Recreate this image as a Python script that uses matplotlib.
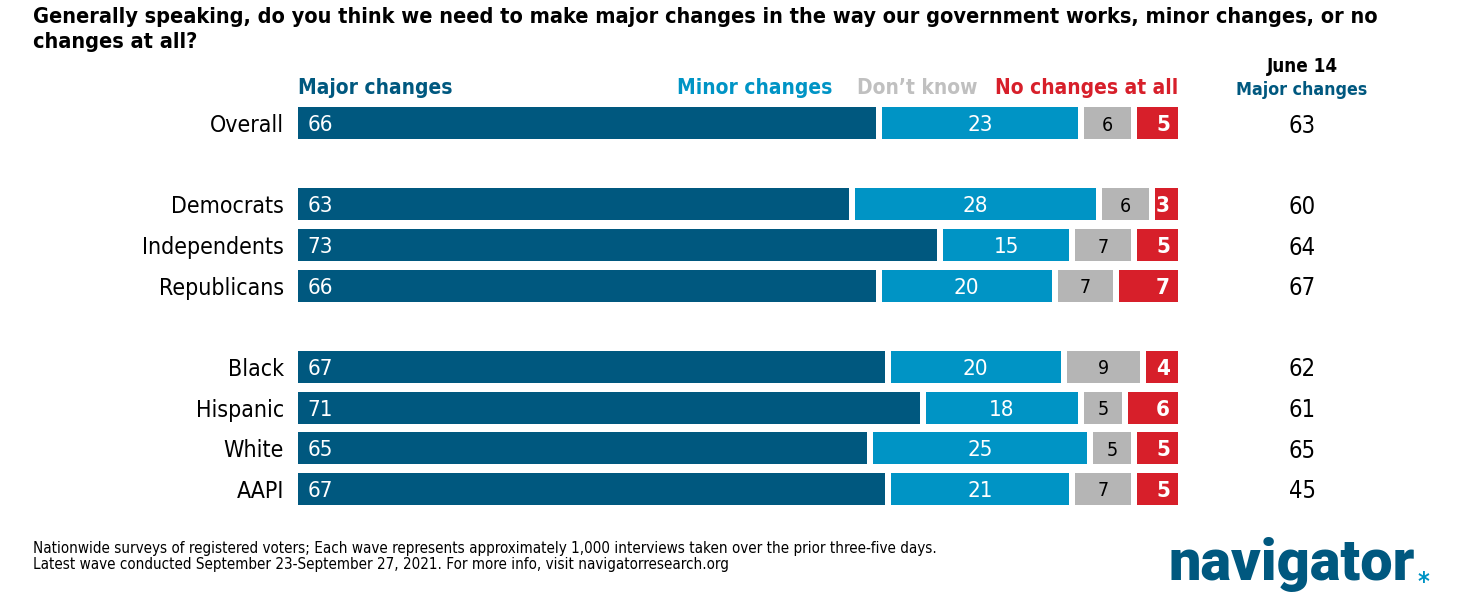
import matplotlib.pyplot as plt

# data
groups = ['Overall', 'Democrats', 'Independents', 'Republicans',
          'Black', 'Hispanic', 'White', 'AAPI']
rows = [0, 2, 3, 4, 6, 7, 8, 9]  # blank rows separate the blocks
major = [66, 63, 73, 66, 67, 71, 65, 67]
minor = [23, 28, 15, 20, 20, 18, 25, 21]
dont_know = [6, 6, 7, 7, 9, 5, 5, 7]
no_change = [5, 3, 5, 7, 4, 6, 5, 5]
june14_major = [63, 60, 64, 67, 62, 61, 65, 45]

series_names = ['Major changes', 'Minor changes', 'Don\u2019t know', 'No changes at all']
colors = ['#00587F', '#0094C5', '#B5B5B5', '#D71F2A']
label_colors = ['white', 'white', 'black', 'white']

plt.rcParams['font.family'] = ['DejaVu Sans']
plt.rcParams['font.stretch'] = 'condensed'

W, H = 1469, 601
fig = plt.figure(figsize=(W / 100, H / 100), dpi=100)

# axes placed in pixel terms: x 298..1178, rows 0..9 at y 123..489
top_px, bot_px = 102.7, 509.3
ax = fig.add_axes([298 / W, 1 - bot_px / H, 880 / W, (bot_px - top_px) / H])
ax.set_xlim(0, 100)
ax.set_ylim(9.5, -0.5)
ax.axis('off')

gap = 0.7
bar_h = 0.79
series = [major, minor, dont_know, no_change]
for i, r in enumerate(rows):
    left = 0
    vals = [s[i] for s in series]
    for j, v in enumerate(vals):
        l0 = left + (gap / 2 if j > 0 else 0)
        l1 = left + v - (gap / 2 if j < len(vals) - 1 else 0)
        ax.barh(r, l1 - l0, left=l0, height=bar_h, color=colors[j], linewidth=0)
        if j == 0:
            ax.text(l0 + 1.1, r, str(v), ha='left', va='center_baseline',
                    color=label_colors[j], fontsize=16)
        elif j == 3:
            ax.text(l1 - 0.9, r, str(v), ha='right', va='center_baseline',
                    color=label_colors[j], fontsize=16, fontweight='bold')
        else:
            ax.text((l0 + l1) / 2, r, str(v), ha='center', va='center_baseline',
                    color=label_colors[j], fontsize=16 if j == 1 else 14)
        left += v
    ax.text(-1.6, r, groups[i], ha='right', va='center_baseline',
            fontsize=16.6, color='black')
    ax.text(114.1, r, str(june14_major[i]), ha='center', va='center_baseline',
            fontsize=17, color='black')

# legend labels above the bars
leg_y = -0.92
ax.text(0, leg_y, series_names[0], ha='left', va='center_baseline',
        color=colors[0], fontsize=15, fontweight='bold')
ax.text(60.7, leg_y, series_names[1], ha='right', va='center_baseline',
        color=colors[1], fontsize=15, fontweight='bold')
ax.text(63.5, leg_y, series_names[2], ha='left', va='center_baseline',
        color='#C0C0C0', fontsize=15, fontweight='bold')
ax.text(100, leg_y, series_names[3], ha='right', va='center_baseline',
        color=colors[3], fontsize=15, fontweight='bold')

ax.text(114.1, -1.45, 'June 14', ha='center', va='center_baseline',
        fontsize=13.5, fontweight='bold', color='black')
ax.text(114.1, -0.85, 'Major changes', ha='center', va='center_baseline',
        fontsize=12.8, fontweight='bold', color=colors[0])

# title
fig.text(33 / W, 1 - 7 / H,
         'Generally speaking, do you think we need to make major changes in the way our government works, minor changes, or no\nchanges at all?',
         ha='left', va='top', fontsize=15.6, fontweight='bold', linespacing=1.3)

# footer
fig.text(33 / W, 1 - 541 / H,
         'Nationwide surveys of registered voters; Each wave represents approximately 1,000 interviews taken over the prior three-five days.\n'
         'Latest wave conducted September 23-September 27, 2021. For more info, visit navigatorresearch.org',
         ha='left', va='top', fontsize=10.9, linespacing=1.1)

# logo
fig.text(1415 / W, 1 - 580 / H, 'navigator', ha='right', va='baseline',
         fontsize=41.5, fontweight='heavy', fontstretch='normal', color=colors[0],
         family=['Roboto', 'DejaVu Sans'])
fig.text(1417 / W, 1 - 589 / H, '*', ha='left', va='baseline',
         fontsize=18, fontweight='bold', color=colors[1],
         family=['DejaVu Sans'])

fig.savefig('out.png', dpi=100)
